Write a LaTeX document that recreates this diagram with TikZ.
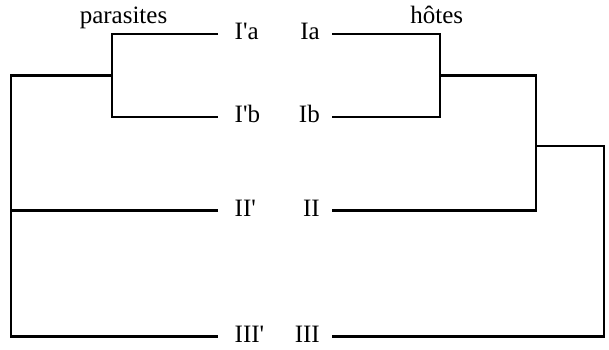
\documentclass[tikz,border=0pt]{standalone}
\usepackage{fontspec}
\setmainfont{Liberation Serif}
\tikzset{
  leaf/.style={inner ysep=0pt,text height=12bp,text depth=0pt,font=\fontsize{25bp}{28bp}\selectfont},
  para/.style={leaf,anchor=west,inner xsep=15.5bp},
  host/.style={leaf,anchor=east,inner xsep=11bp},
  head/.style={anchor=base,inner sep=0pt,font=\fontsize{25bp}{28bp}\selectfont},
}
\begin{document}
\begin{tikzpicture}[line join=miter,line width=2.4bp]
\useasboundingbox (0bp,0bp) rectangle (609bp,350bp);
%%
\node (node_parasites) at (123.5bp,326.7bp) [head] {parasites};
\node (node_hotes) at (436.7bp,326.7bp) [head] {hôtes};
%
\node (node_pIa) at (218bp,316bp) [para] {I\textquotesingle a};
\node (node_pIb) at (218bp,233bp) [para] {I\textquotesingle b};
\node (node_pII) at (218bp,139.5bp) [para] {II\textquotesingle};
\node (node_pIII) at (218bp,13.5bp) [para] {III\textquotesingle};
\node (node_hIa) at (332bp,316bp) [host] {Ia};
\node (node_hIb) at (332bp,233bp) [host] {Ib};
\node (node_hII) at (332bp,139.5bp) [host] {II};
\node (node_hIII) at (332bp,13.5bp) [host] {III};
%
\coordinate (pAB) at (112bp,274.5bp);
\coordinate (pRoot) at (11bp,274.5bp);
\coordinate (hAB) at (440bp,274.5bp);
\coordinate (hC) at (536bp,274.5bp);
\coordinate (hD) at (536bp,204bp);
\coordinate (hRoot) at (604bp,204bp);
%
\draw (node_pIa.west) -| (pAB) |- (node_pIb.west);
\draw (pAB) -- (pRoot) |- (node_pIII.west);
\draw (node_pII.west) -- (node_pII.west -| pRoot);
\draw (node_hIa.east) -| (hAB) |- (node_hIb.east);
\draw (hAB) -- (hC) |- (node_hII.east);
\draw (hD) -- (hRoot) |- (node_hIII.east);
%
\end{tikzpicture}
\end{document}
